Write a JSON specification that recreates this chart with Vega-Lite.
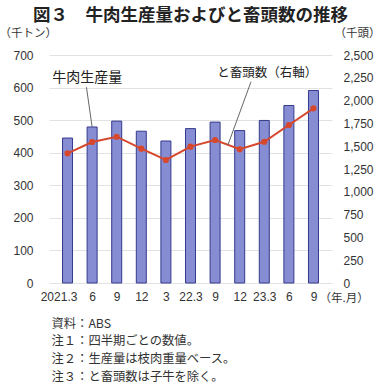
{
  "$schema": "https://vega.github.io/schema/vega-lite/v6.json",
  "width": 283,
  "height": 228,
  "autosize": {"type": "none"},
  "padding": {"left": 49, "top": 55, "right": 48, "bottom": 105},
  "background": "white",
  "title": {
    "text": "図３　牛肉生産量およびと畜頭数の推移",
    "font": "Noto Sans CJK JP",
    "fontSize": 17.5,
    "fontWeight": "bold",
    "color": "#222222",
    "anchor": "middle",
    "frame": "group",
    "offset": 3
  },
  "config": {
    "view": {"stroke": null},
    "font": "Noto Sans CJK JP",
    "axis": {"labelFont": "Liberation Sans", "labelFontSize": 12, "labelColor": "#333333", "labelOverlap": false, "titleFont": "Noto Sans CJK JP", "titleFontWeight": "normal", "titleColor": "#333333"}
  },
  "layer": [
    {
      "layer": [
        {
          "data": {"values": [
            {"i": 0, "v": 445}, {"i": 1, "v": 479}, {"i": 2, "v": 497}, {"i": 3, "v": 466},
            {"i": 4, "v": 436}, {"i": 5, "v": 474}, {"i": 6, "v": 494}, {"i": 7, "v": 468},
            {"i": 8, "v": 499}, {"i": 9, "v": 545}, {"i": 10, "v": 591}
          ]},
          "mark": {"type": "bar", "width": 10, "fill": "#878dd2", "stroke": "#343a8c", "strokeWidth": 1},
          "encoding": {
            "x": {
              "field": "i", "type": "quantitative",
              "scale": {"domain": [-0.55, 10.55], "nice": false, "zero": false},
              "axis": {
                "values": [0, 1, 2, 3, 4, 5, 6, 7, 8, 9, 10],
                "tickCount": 30,
                "labelExpr": "['2021.3','6','9','12','3','22.3','9','12','23.3','6','9'][datum.value]",
                "labelOffset": {"condition": {"test": "datum.value == 0", "value": -9}, "value": 0},
                "grid": false, "domain": false, "ticks": false, "labelPadding": 8,
                "labelFlush": false, "labelOverlap": false,
                "title": ["資料：ABS", "注１：四半期ごとの数値。", "注２：生産量は枝肉重量ベース。", "注３：と畜頭数は子牛を除く。"],
                "titleFontSize": 12.3,
                "titleLineHeight": 17.8,
                "titleAnchor": "start",
                "titleAlign": "left",
                "titleBaseline": "top",
                "titleX": 2,
                "titleY": 34
              }
            },
            "y": {
              "field": "v", "type": "quantitative",
              "scale": {"domain": [0, 700], "nice": false},
              "axis": {
                "values": [0, 100, 200, 300, 400, 500, 600, 700],
                "tickCount": 30,
                "labelOverlap": false,
                "grid": true, "gridColor": "#e2e2e2", "domain": false, "ticks": false, "labelPadding": 16,
                "title": "（千トン）", "titleAngle": 0, "titleAlign": "left", "titleBaseline": "middle",
                "titleX": -50, "titleY": -22, "titleFontSize": 11.5
              }
            }
          }
        },
        {
          "data": {"values": [{"i": 0.8, "v": 630, "t": "牛肉生産量"}]},
          "mark": {"type": "text", "fontSize": 14, "color": "#222222", "font": "Noto Sans CJK JP"},
          "encoding": {
            "x": {"field": "i", "type": "quantitative"},
            "y": {"field": "v", "type": "quantitative"},
            "text": {"field": "t"}
          }
        },
        {
          "data": {"values": [{"i": 0.77, "v": 601, "i2": 1, "v2": 479}]},
          "mark": {"type": "rule", "color": "#666666", "strokeWidth": 1},
          "encoding": {
            "x": {"field": "i", "type": "quantitative"},
            "x2": {"field": "i2"},
            "y": {"field": "v", "type": "quantitative"},
            "y2": {"field": "v2"}
          }
        },
        {
          "data": {"values": [{"i": 11.25, "v": 0, "t": "（年.月）"}]},
          "mark": {"type": "text", "fontSize": 11.5, "color": "#333333", "dy": 16, "font": "Noto Sans CJK JP"},
          "encoding": {
            "x": {"field": "i", "type": "quantitative"},
            "y": {"field": "v", "type": "quantitative"},
            "text": {"field": "t"}
          }
        }
      ]
    },
    {
      "layer": [
        {
          "data": {"values": [
            {"i": 0, "h": 1422}, {"i": 1, "h": 1546}, {"i": 2, "h": 1604}, {"i": 3, "h": 1473},
            {"i": 4, "h": 1349}, {"i": 5, "h": 1495}, {"i": 6, "h": 1568}, {"i": 7, "h": 1466},
            {"i": 8, "h": 1549}, {"i": 9, "h": 1732}, {"i": 10, "h": 1915}
          ]},
          "mark": {"type": "line", "color": "#d6472c", "strokeWidth": 2, "point": {"filled": true, "size": 38, "color": "#d6472c"}},
          "encoding": {
            "x": {"field": "i", "type": "quantitative"},
            "y": {
              "field": "h", "type": "quantitative",
              "scale": {"domain": [0, 2500], "nice": false},
              "axis": {
                "orient": "right",
                "values": [0, 250, 500, 750, 1000, 1250, 1500, 1750, 2000, 2250, 2500],
                "tickCount": 30,
                "format": ",d",
                "labelOverlap": false,
                "grid": false, "domain": false, "ticks": false, "labelPadding": 11,
                "title": "（千頭）", "titleAngle": 0, "titleAlign": "left", "titleBaseline": "middle",
                "titleX": 2, "titleY": -22, "titleFontSize": 11.5
              }
            }
          }
        },
        {
          "data": {"values": [{"i": 8.12, "h": 2300, "t": "と畜頭数（右軸）"}]},
          "mark": {"type": "text", "fontSize": 12.5, "color": "#222222", "font": "Noto Sans CJK JP"},
          "encoding": {
            "x": {"field": "i", "type": "quantitative"},
            "y": {"field": "h", "type": "quantitative"},
            "text": {"field": "t"}
          }
        },
        {
          "data": {"values": [{"i": 7.46, "h": 2207, "i2": 6.52, "h2": 1513}]},
          "mark": {"type": "rule", "color": "#666666", "strokeWidth": 1},
          "encoding": {
            "x": {"field": "i", "type": "quantitative"},
            "x2": {"field": "i2"},
            "y": {"field": "h", "type": "quantitative"},
            "y2": {"field": "h2"}
          }
        }
      ]
    }
  ],
  "resolve": {"scale": {"y": "independent"}}
}
